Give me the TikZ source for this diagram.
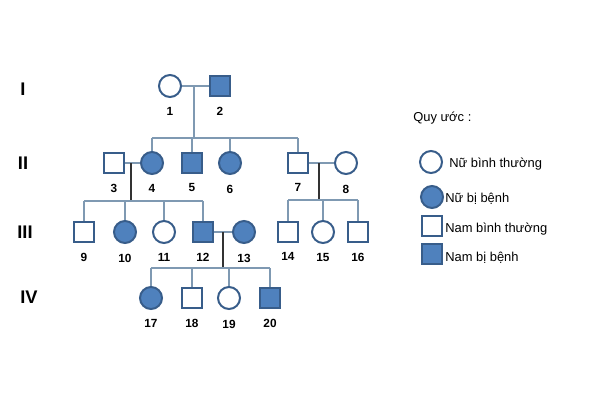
\documentclass[tikz,border=0pt]{standalone}
\usepackage{fontspec}
\setmainfont{Liberation Sans}
\usetikzlibrary{positioning}
\definecolor{sick}{RGB}{79,129,189}
\definecolor{rim}{RGB}{56,93,138}
\definecolor{kin}{RGB}{127,153,178}

\begin{document}
\begin{tikzpicture}[
x=0.025cm, y=-0.025cm,
Male/.style={draw=rim,line width=1.4pt,fill=white,minimum size=0.5cm,inner sep=0pt},
Female/.style={Male,circle,minimum size=0.55cm},
Ill/.style={fill=sick},
Kin/.style={draw=kin,line width=0.8pt},
Descent/.style={draw=black!80,line width=0.8pt},
Gen/.style={font=\fontsize{13}{15}\selectfont\bfseries},
Legend/.style={font=\fontsize{9.2}{11}\selectfont,anchor=west,inner sep=0pt},
every label/.style={font=\fontsize{8.4}{10}\selectfont\bfseries},
label distance=0.12cm
]
\useasboundingbox (0,0) rectangle (600,401);

% generations
\node[Gen] (G1) at (23,89) {I};
\node[Gen] (G2) at (23,163) {II};
\node[Gen] (G3) at (25,232) {III};
\node[Gen] (G4) at (29,297) {IV};

% generation I
\node[Female,label=below:1] (P1) at (170,86) {};
\node[Male,Ill,label=below:2] (P2) at (220,86) {};

% generation II
\node[Male,label=below:3] (P3) at (114,163) {};
\node[Female,Ill,label=below:4] (P4) at (152,163) {};
\node[Male,Ill,label=below:5] (P5) at (192,163) {};
\node[Female,Ill,label=below:6] (P6) at (230,163) {};
\node[Male,label=below:7] (P7) at (298,163) {};
\node[Female,label=below:8] (P8) at (346,163) {};

% generation III
\node[Male,label=below:9] (P9) at (84,232) {};
\node[Female,Ill,label=below:10] (P10) at (125,232) {};
\node[Female,label=below:11] (P11) at (164,232) {};
\node[Male,Ill,label=below:12] (P12) at (203,232) {};
\node[Female,Ill,label=below:13] (P13) at (244,232) {};
\node[Male,label=below:14] (P14) at (288,232) {};
\node[Female,label=below:15] (P15) at (323,232) {};
\node[Male,label=below:16] (P16) at (358,232) {};

% generation IV
\node[Female,Ill,label=below:17] (P17) at (151,298) {};
\node[Male,label=below:18] (P18) at (192,298) {};
\node[Female,label=below:19] (P19) at (229,298) {};
\node[Male,Ill,label=below:20] (P20) at (270,298) {};

% couples and sibships
\coordinate (C12) at (194,86);
\coordinate (C34) at (131,163);
\coordinate (C78) at (319,163);
\coordinate (C1213) at (223,232);
\coordinate (S2) at (0,138);
\coordinate (S3a) at (0,201);
\coordinate (S3b) at (0,200);
\coordinate (S4) at (0,268);

\draw[Kin] (P1) -- (P2);
\draw[Kin] (C12) -- (C12 |- S2);
\draw[Kin] (P4 |- S2) -- (P7 |- S2);
\draw[Kin] (P4 |- S2) -- (P4);
\draw[Kin] (P5 |- S2) -- (P5);
\draw[Kin] (P6 |- S2) -- (P6);
\draw[Kin] (P7 |- S2) -- (P7);

\draw[Kin] (P3) -- (P4);
\draw[Descent] (C34) -- (C34 |- S3a);
\draw[Kin] (P9 |- S3a) -- (P12 |- S3a);
\draw[Kin] (P9 |- S3a) -- (P9);
\draw[Kin] (P10 |- S3a) -- (P10);
\draw[Kin] (P11 |- S3a) -- (P11);
\draw[Kin] (P12 |- S3a) -- (P12);

\draw[Kin] (P7) -- (P8);
\draw[Descent] (C78) -- (C78 |- S3b);
\draw[Kin] (P14 |- S3b) -- (P16 |- S3b);
\draw[Kin] (P14 |- S3b) -- (P14);
\draw[Kin] (P15 |- S3b) -- (P15);
\draw[Kin] (P16 |- S3b) -- (P16);

\draw[Kin] (P12) -- (P13);
\draw[Descent] (C1213) -- (C1213 |- S4);
\draw[Kin] (P17 |- S4) -- (P20 |- S4);
\draw[Kin] (P17 |- S4) -- (P17);
\draw[Kin] (P18 |- S4) -- (P18);
\draw[Kin] (P19 |- S4) -- (P19);
\draw[Kin] (P20 |- S4) -- (P20);

% legend
\node[Legend] (Key) at (413,118) {Quy ước :};
\node[Female] (K1) at (431,162) {};
\node[Legend] (T1) at (449,164) {Nữ bình thường};
\node[Female,Ill] (K2) at (432,197) {};
\node[Legend] (T2) at (445,199) {Nữ bị bệnh};
\node[Male] (K3) at (432,226) {};
\node[Legend] (T3) at (445,229) {Nam bình thường};
\node[Male,Ill] (K4) at (432,254) {};
\node[Legend] (T4) at (445,258) {Nam bị bệnh};

\end{tikzpicture}
\end{document}
